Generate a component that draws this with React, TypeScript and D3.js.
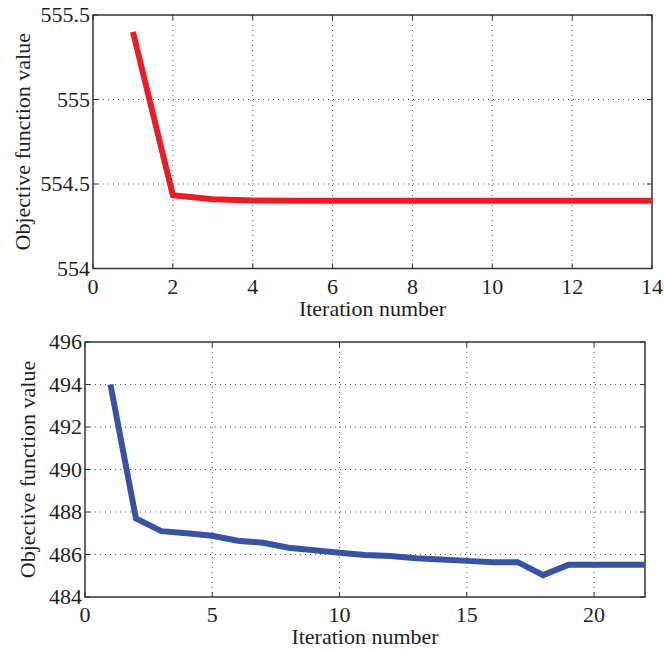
import React from "react";
import * as d3 from "d3";

const topIter = [1, 2, 3, 4, 5, 6, 7, 8, 9, 10, 11, 12, 13, 14];
const topValues = [555.4, 554.433, 554.41, 554.402, 554.401, 554.401, 554.401, 554.401, 554.401, 554.401, 554.401, 554.401, 554.401, 554.401];
const topXTicks = [0, 2, 4, 6, 8, 10, 12, 14];
const topYTicks = [554, 554.5, 555, 555.5];

const botIter = [1, 2, 3, 4, 5, 6, 7, 8, 9, 10, 11, 12, 13, 14, 15, 16, 17, 18, 19, 20, 21, 22];
const botValues = [494.0, 487.7, 487.1, 487.0, 486.88, 486.65, 486.55, 486.32, 486.2, 486.08, 485.98, 485.93, 485.82, 485.76, 485.7, 485.64, 485.64, 485.03, 485.52, 485.52, 485.52, 485.52];
const botXTicks = [0, 5, 10, 15, 20];
const botYTicks = [484, 486, 488, 490, 492, 494, 496];

const FONT = "Liberation Serif, Times New Roman, serif";
const TEXT = "#231f20";

type PanelProps = {
  left: number; top: number; right: number; bottom: number;
  xDomain: [number, number]; yDomain: [number, number];
  xTicks: number[]; yTicks: number[];
  xs: number[]; ys: number[];
  color: string;
  yLabelX: number;
};

function Panel(p: PanelProps) {
  const x = d3.scaleLinear().domain(p.xDomain).range([p.left, p.right]);
  const y = d3.scaleLinear().domain(p.yDomain).range([p.bottom, p.top]);
  const line = d3.line<number>().x((_, i) => x(p.xs[i])).y((d) => y(d));
  const path = line(p.ys) || "";
  const grid = "#555";
  return (
    <g>
      {p.xTicks.slice(1).filter((t) => x(t) < p.right - 1).map((t) => (
        <line key={"gx" + t} x1={x(t)} x2={x(t)} y1={p.top} y2={p.bottom} stroke={grid} strokeWidth={1} strokeDasharray="1,4" />
      ))}
      {p.yTicks.slice(1, -1).map((t) => (
        <line key={"gy" + t} x1={p.left} x2={p.right} y1={y(t)} y2={y(t)} stroke={grid} strokeWidth={1} strokeDasharray="1,4" />
      ))}
      {p.xTicks.map((t) => (
        <g key={"tx" + t}>
          <line x1={x(t)} x2={x(t)} y1={p.bottom} y2={p.bottom - 5} stroke="#333" strokeWidth={1} />
          <line x1={x(t)} x2={x(t)} y1={p.top} y2={p.top + 5} stroke="#333" strokeWidth={1} />
          <text x={x(t)} y={p.bottom + 25} textAnchor="middle" style={{ fontFamily: FONT }} fontSize={22} fill={TEXT}>{t}</text>
        </g>
      ))}
      {p.yTicks.map((t) => (
        <g key={"ty" + t}>
          <line x1={p.left} x2={p.left + 5} y1={y(t)} y2={y(t)} stroke="#333" strokeWidth={1} />
          <line x1={p.right} x2={p.right - 5} y1={y(t)} y2={y(t)} stroke="#333" strokeWidth={1} />
          <text x={p.left - 3} y={y(t)} dy="0.34em" textAnchor="end" style={{ fontFamily: FONT }} fontSize={22} fill={TEXT}>{String(t)}</text>
        </g>
      ))}
      <rect x={p.left} y={p.top} width={p.right - p.left} height={p.bottom - p.top} fill="none" stroke="#333" strokeWidth={1.5} />
      <path d={path} fill="none" stroke={p.color} strokeWidth={6} strokeLinejoin="miter" />
      <text x={(p.left + p.right) / 2} y={p.bottom + 47} textAnchor="middle" style={{ fontFamily: FONT }} fontSize={22} fill={TEXT}>Iteration number</text>
      <text transform={`translate(${p.yLabelX},${(p.top + p.bottom) / 2}) rotate(-90)`} textAnchor="middle" style={{ fontFamily: FONT }} fontSize={22} fill={TEXT}>Objective function value</text>
    </g>
  );
}

export default function App() {
  return (
    <svg width={664} height={653} style={{ position: "absolute", left: 0, top: 0, background: "#fff" }}>
      <Panel left={93} top={15} right={652} bottom={268.5}
        xDomain={[0, 14]} yDomain={[554, 555.5]}
        xTicks={topXTicks} yTicks={topYTicks}
        xs={topIter} ys={topValues} color="#ed1c24" yLabelX={30} />
      <Panel left={85} top={342} right={645} bottom={597}
        xDomain={[0, 22]} yDomain={[484, 496]}
        xTicks={botXTicks} yTicks={botYTicks}
        xs={botIter} ys={botValues} color="#3953a4" yLabelX={35} />
    </svg>
  );
}
